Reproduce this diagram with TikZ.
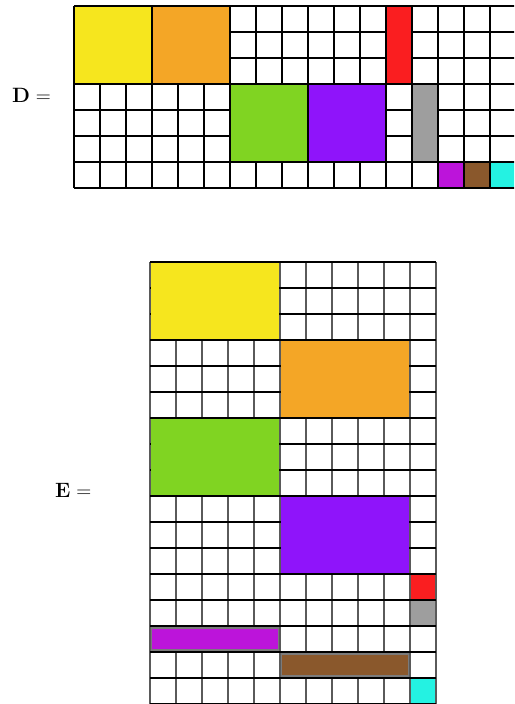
\documentclass[tikz,border=0pt]{standalone}
\usepackage{amsmath,amssymb}
\usepackage{tikz}
\usetikzlibrary{calc}
\definecolor{BlkYellow}{RGB}{246,230,30}
\definecolor{BlkOrange}{RGB}{244,166,38}
\definecolor{BlkGreen}{RGB}{128,212,34}
\definecolor{BlkPurple}{RGB}{143,20,250}
\definecolor{BlkRed}{RGB}{250,30,32}
\definecolor{BlkGray}{RGB}{158,158,158}
\definecolor{BlkMagenta}{RGB}{188,20,218}
\definecolor{BlkBrown}{RGB}{138,88,44}
\definecolor{BlkCyan}{RGB}{36,242,226}
\definecolor{GridGray}{RGB}{90,90,90}
\tikzset{
  lbl/.style={anchor=base west,inner sep=0pt,font=\fontsize{20}{24}\selectfont},
  dline/.style={draw=black,line width=1.5pt},
  hline/.style={draw=black,line width=1.5pt},
  vline/.style={draw=GridGray,line width=1.5pt},
  bar/.style={draw=GridGray!80,line width=1.2pt},
}
\newcommand{\blk}[3]{\fill[#1] ($#2+(0.03,0.03)$) rectangle ($#3-(0.03,0.03)$);}

\begin{document}
\begin{tikzpicture}[x=1pt,y=-1pt]
\useasboundingbox (0,0) rectangle (514,704);
\clip (0,0) rectangle (514,704);
\fill[white] (0,0) rectangle (514,704);
% matrix D
\node[lbl] (dname) at (12,102) {$\mathbf{D} =$};
\begin{scope}[shift={(74,6)},x=26pt,y=-26pt]
\foreach \c in {0,...,17} \draw[dline] (\c,0) -- (\c,7);
\foreach \r in {0,...,7} \draw[dline] (0,\r) -- (17,\r);
\blk{BlkYellow}{(0,0)}{(3,3)}
\blk{BlkOrange}{(3,0)}{(6,3)}
\blk{BlkGreen}{(6,3)}{(9,6)}
\blk{BlkPurple}{(9,3)}{(12,6)}
\blk{BlkRed}{(12,0)}{(13,3)}
\blk{BlkGray}{(13,3)}{(14,6)}
\blk{BlkMagenta}{(14,6)}{(15,7)}
\blk{BlkBrown}{(15,6)}{(16,7)}
\blk{BlkCyan}{(16,6)}{(17,7)}
\end{scope}
% matrix E
\node[lbl] (ename) at (55,497) {$\mathbf{E} =$};
\begin{scope}[shift={(150,262)},x=26pt,y=-26pt]
\foreach \c in {0,...,11} \draw[vline] (\c,0) -- (\c,17);
\foreach \r in {0,...,17} \draw[hline] (0,\r) -- (11,\r);
\blk{BlkYellow}{(0,0)}{(5,3)}
\blk{BlkOrange}{(5,3)}{(10,6)}
\blk{BlkGreen}{(0,6)}{(5,9)}
\blk{BlkPurple}{(5,9)}{(10,12)}
\blk{BlkRed}{(10,12)}{(11,13)}
\blk{BlkGray}{(10,13)}{(11,14)}
\draw[bar,fill=BlkMagenta] ($(0,14)+(0.07,0.08)$) rectangle ($(5,15)-(0.07,0.08)$);
\draw[bar,fill=BlkBrown] ($(5,15)+(0.07,0.08)$) rectangle ($(10,16)-(0.07,0.08)$);
\blk{BlkCyan}{(10,16)}{(11,17)}
\end{scope}
\end{tikzpicture}
\end{document}
